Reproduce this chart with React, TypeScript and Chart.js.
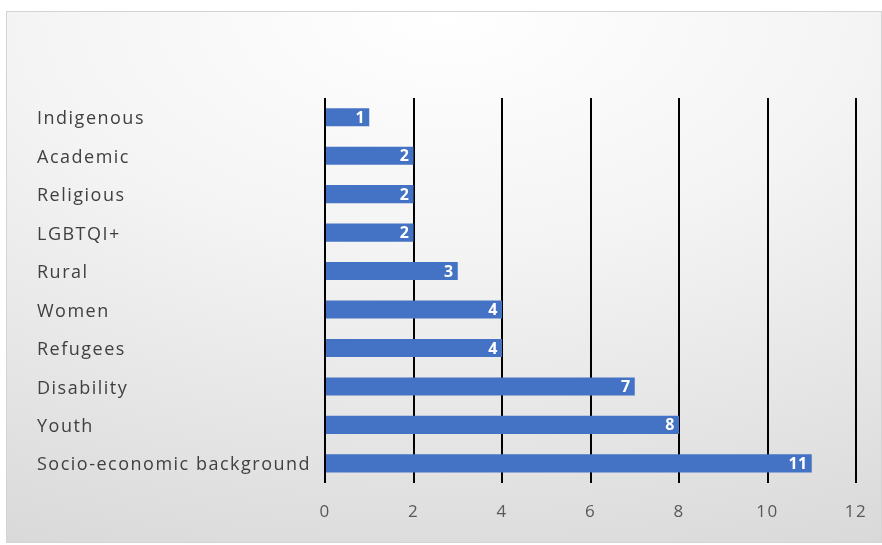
import React, { useEffect, useRef } from "react";
import { Chart, registerables } from "chart.js";

Chart.register(...registerables);

const categories = [
  "Indigenous",
  "Academic",
  "Religious",
  "LGBTQI+",
  "Rural",
  "Women",
  "Refugees",
  "Disability",
  "Youth",
  "Socio-economic background",
];
const values = [1, 2, 2, 2, 3, 4, 4, 7, 8, 11];
const xMin = 0;
const xMax = 12;
const xStep = 2;

const FONT = "'Open Sans', Lato, sans-serif";

const spacingPlugin = {
  id: "spacing",
  beforeDraw(chart: any) {
    chart.ctx.letterSpacing = "1.5px";
  },
  beforeDatasetsDraw(chart: any) {
    chart.ctx.letterSpacing = "0px";
  },
};

const valueLabelPlugin = {
  id: "valueLabels",
  afterDatasetsDraw(chart: any) {
    const ctx = chart.ctx;
    const meta = chart.getDatasetMeta(0);
    ctx.save();
    ctx.letterSpacing = "0.5px";
    ctx.fillStyle = "#ffffff";
    ctx.font = `bold 16px ${FONT}`;
    ctx.textAlign = "right";
    ctx.textBaseline = "middle";
    meta.data.forEach((bar: any, i: number) => {
      ctx.fillText(String(values[i]), bar.x - 4, bar.y + 1);
    });
    ctx.restore();
  },
};

export default function App() {
  const ref = useRef<HTMLCanvasElement>(null);
  useEffect(() => {
    if (!ref.current) return;
    const chart = new Chart(ref.current, {
      type: "bar",
      data: {
        labels: categories,
        datasets: [
          {
            data: values,
            backgroundColor: "#4472C4",
            barPercentage: 0.94,
            categoryPercentage: 0.5,
          },
        ],
      },
      options: {
        indexAxis: "y",
        animation: false,
        responsive: false,
        maintainAspectRatio: false,
        layout: { padding: { left: 30, right: 25, top: 86, bottom: 1 } },
        plugins: {
          legend: { display: false },
          tooltip: { enabled: false },
        },
        scales: {
          x: {
            min: xMin,
            max: xMax,
            ticks: {
              stepSize: xStep,
              color: "#595959",
              font: { family: FONT, size: 17 },
              padding: 19,
            },
            grid: {
              color: "#000000",
              lineWidth: 2,
              drawTicks: false,
            },
            border: { display: false },
            afterFit: (scale: any) => {
              scale.paddingLeft = 0;
              scale.paddingRight = 0;
            },
          },
          y: {
            ticks: {
              color: "#404040",
              font: { family: FONT, size: 18 },
              crossAlign: "far",
              padding: 0,
              labelOffset: 2,
            },
            grid: { display: false, drawTicks: false },
            border: { display: false },
            afterFit: (scale: any) => {
              scale.width = 288;
            },
          },
        },
      },
      plugins: [spacingPlugin, valueLabelPlugin],
    });
    return () => chart.destroy();
  }, []);

  return (
    <div
      style={{
        position: "fixed",
        left: 6,
        top: 11,
        width: 876,
        height: 532,
        boxSizing: "border-box",
        border: "1px solid #d4d4d4",
        background:
          "radial-gradient(ellipse 120% 110% at 50% 0%, #ffffff 0%, #f4f4f4 40%, #d9d9d9 100%)",
      }}
    >
      <canvas ref={ref} width={874} height={530} style={{ display: "block" }} />
    </div>
  );
}
